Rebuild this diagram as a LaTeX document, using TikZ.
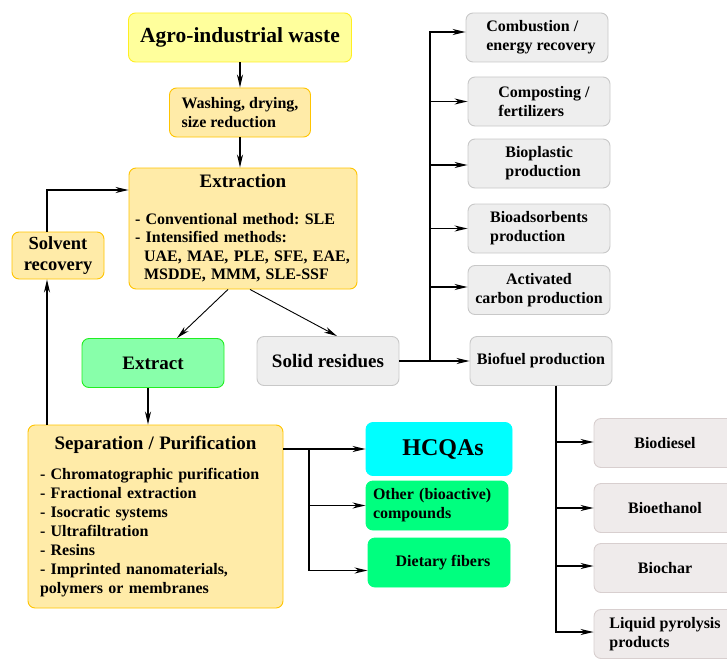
\documentclass[tikz,border=0pt]{standalone}
\usepackage{fontspec}
\setmainfont{Liberation Serif}
\usetikzlibrary{arrows.meta}
\definecolor{wastefill}{HTML}{FFFF9C}
\definecolor{wastedraw}{HTML}{FFEE22}
\definecolor{procfill}{HTML}{FFEBA8}
\definecolor{procdraw}{HTML}{FFC400}
\definecolor{extractfill}{HTML}{88FFAA}
\definecolor{extractdraw}{HTML}{22EE22}
\definecolor{residuefill}{HTML}{EEEEEE}
\definecolor{residuedraw}{HTML}{C8C8C8}
\definecolor{fuelfill}{HTML}{EFEBEB}
\definecolor{fueldraw}{HTML}{D8CFCF}
\definecolor{hcqafill}{HTML}{00FFFF}
\definecolor{compfill}{HTML}{00FF7F}

\begin{document}
\frenchspacing
\begin{tikzpicture}
[
x=1pt,y=-1pt,
>={Stealth[length=13pt,width=6pt,inset=4pt]},
flow/.style={->,line width=1.4pt},
thinflow/.style={->,line width=0.9pt},
box/.style={draw,rounded corners=7pt,line width=0.9pt,inner sep=0pt,
            font=\bfseries\fontsize{16}{19}\selectfont},
bigtext/.style={font=\bfseries\fontsize{19}{21}\selectfont},
wastebox/.style={box,fill=wastefill,draw=wastedraw,minimum width=223pt,minimum height=49pt,
            font=\bfseries\fontsize{21.5}{25}\selectfont},
procbox/.style 2 args={box,fill=procfill,draw=procdraw,minimum width=#1,minimum height=#2},
extractbox/.style={box,bigtext,fill=extractfill,draw=extractdraw,minimum width=142pt,minimum height=49pt},
residuebox/.style={box,fill=residuefill,draw=residuedraw,minimum width=142pt,minimum height=49pt},
fuelbox/.style={box,fill=fuelfill,draw=fueldraw,minimum width=142pt,minimum height=49pt},
compbox/.style={box,fill=compfill,draw=compfill,minimum width=142pt,minimum height=49pt},
]
\useasboundingbox (0,0) rectangle (727,658);

%Place the nodes
\node[wastebox] (waste) at (240,37.5) {Agro-industrial waste};
\node[procbox={141pt}{49pt},align=left] (wash) at (240,112.5) {Washing, drying,\\ size reduction};
\node[procbox={228pt}{121pt},text width=216pt,align=left,
      font=\bfseries\fontsize{16}{18.5}\selectfont] (extr) at (243,228.5)
  {\hfill{\fontsize{19}{21}\selectfont Extraction}\hfill\null\\[18pt]
   - Conventional method: SLE\\
   - Intensified methods:\\
   \hspace*{9pt}UAE, MAE, PLE, SFE, EAE,\\
   \hspace*{9pt}MSDDE, MMM, SLE-SSF};
\node[procbox={92pt}{47pt},bigtext,font=\bfseries\fontsize{18.5}{21}\selectfont,align=center] (solv) at (58,255.5) {Solvent\\recovery};
\node[extractbox] (extract) at (153,363) {Extract};
\node[residuebox,bigtext] (solid) at (328,361) {Solid residues};
\node[procbox={255pt}{183pt},text width=231pt,align=left] (sep) at (155.5,516.5)
  {\hfill{\fontsize{19}{21}\selectfont Separation / Purification}\hfill\null\\[11pt]
   - Chromatographic purification\\
   - Fractional extraction\\
   - Isocratic systems\\
   - Ultrafiltration\\
   - Resins\\
   - Imprinted nanomaterials,\\
   polymers or membranes};
\node[compbox,fill=hcqafill,draw=hcqafill,minimum width=146pt,minimum height=53pt,
      font=\bfseries\fontsize{24}{28}\selectfont] (hcqa) at (439,449) {\hspace*{8pt}HCQAs};
\node[compbox,text width=128pt,align=left] (other) at (437,505.5) {Other (bioactive)\\compounds};
\node[compbox] (diet) at (439,562.5) {\hspace*{8pt}Dietary fibers\\[8pt]};
% residue uses
\node[residuebox,align=left] (comb) at (537,37.5) {\hspace*{8pt}Combustion /\\\hspace*{8pt}energy recovery};
\node[residuebox,align=left] (comp) at (539,101.5) {\hspace*{10pt}Composting /\\\hspace*{10pt}fertilizers};
\node[residuebox,align=left] (biopl) at (539,163.5) {\hspace*{8pt}Bioplastic\\\hspace*{8pt}production};
\node[residuebox,align=left] (bioads) at (539,228.5) {Bioadsorbents\\production};
\node[residuebox,align=center] (actc) at (539,290) {Activated\\carbon production};
\node[residuebox] (biofuel) at (541,361) {Biofuel production};
% biofuels
\node[fuelbox] (bdies) at (665,443) {Biodiesel};
\node[fuelbox] (beth) at (665,508) {Bioethanol};
\node[fuelbox] (bchar) at (665,568) {Biochar};
\node[fuelbox,align=left] (liq) at (665,634) {Liquid pyrolysis\\products};

%Draw the connections
\coordinate (loop) at (47,190);
\coordinate (rsplit) at (430,361);
\coordinate (fsplit) at (556,0);
\coordinate (psplit) at (309,449);
\draw[flow] (waste) -- (waste |- wash.north);
\draw[flow] (wash) -- (wash |- extr.north);
\draw[thinflow] ([xshift=-15pt]extr.south) -- ([xshift=24pt]extract.north);
\draw[thinflow] ([xshift=7pt]extr.south) -- ([xshift=9pt]solid.north);
\draw[flow] ([xshift=-5pt]extract.south) -- ([xshift=-5pt]extract.south |- sep.north);
\draw[flow] (sep.north -| loop) -- (solv.south -| loop);
\draw[flow] (solv.north -| loop) |- (extr.west |- loop);
\draw[flow] (solid) -- (biofuel);
\foreach \n/\s in {comb/5.5pt,comp/0pt,biopl/-1.5pt,bioads/0pt,actc/3pt}
  \draw[flow] (rsplit) |- ([yshift=\s]\n.west);
\foreach \n/\s in {bdies/1pt,beth/0pt,bchar/2pt,liq/2pt}
  \draw[flow] (biofuel.south -| fsplit) |- ([yshift=\s]\n.west);
\draw[flow] (sep.east |- psplit) -- (hcqa);
\draw[flow] (psplit) |- (other);
\draw[flow] (psplit) |- ([yshift=-8pt]diet.west);
\end{tikzpicture}
\end{document}
